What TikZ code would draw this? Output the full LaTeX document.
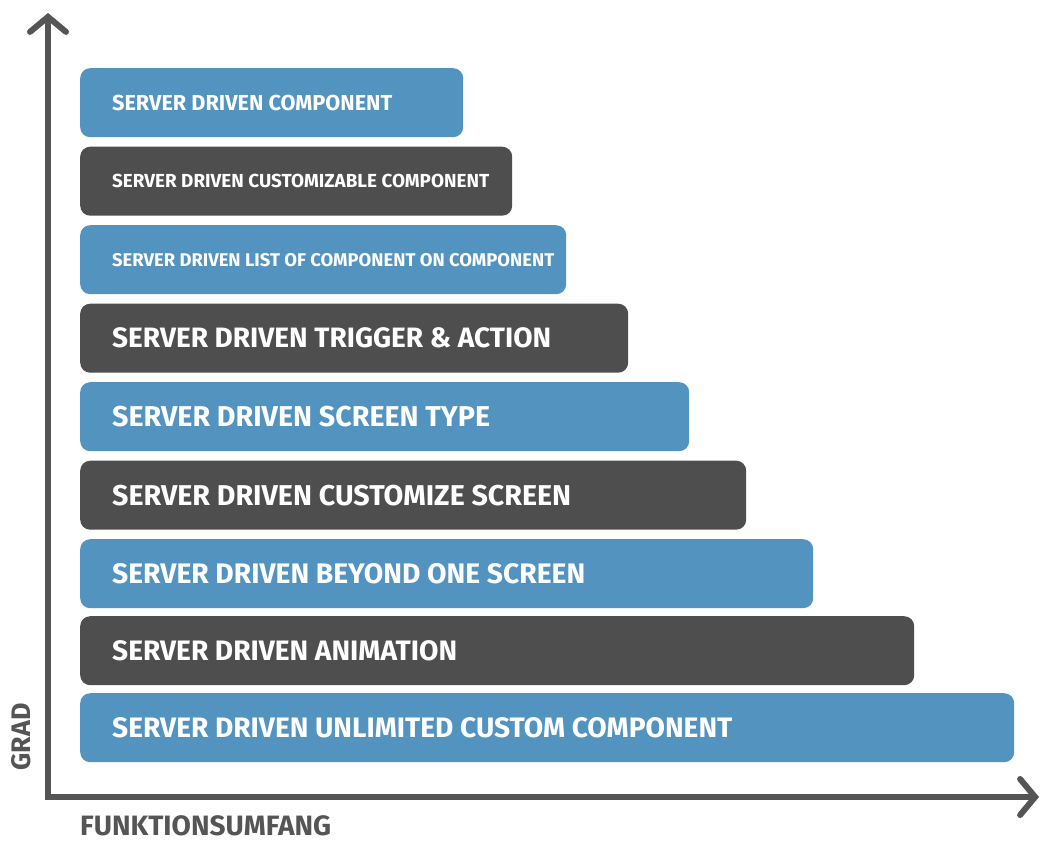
\documentclass[tikz,border=0pt]{standalone}
\usepackage{fontspec}
\usepackage{graphicx}
\setmainfont{Fira Sans}
\usetikzlibrary{arrows.meta}
\definecolor{barblue}{HTML}{5393C0}
\definecolor{bardark}{HTML}{4E4E4E}
\definecolor{axisgray}{HTML}{555555}
\newcommand{\fitw}[2]{\resizebox{#1pt}{!}{#2}}

\begin{document}
\begin{tikzpicture}[x=1pt,y=-1pt,
  bar/.style={rounded corners=10pt, minimum height=69pt, anchor=north west, inner sep=0pt},
  bluebar/.style={bar, fill=barblue},
  darkbar/.style={bar, fill=bardark},
  bartext/.style={anchor=west, inner sep=0pt, text=white, font=\bfseries, xshift=32pt},
  axislabel/.style={inner sep=0pt, text=axisgray, font=\bfseries},
  axis/.style={line width=6pt, draw=axisgray, line join=miter,
    {Straight Barb[length=15pt,width=36pt,line cap=round]}-{Straight Barb[length=15pt,width=36pt,line cap=round]}}]

\useasboundingbox (0,0) rectangle (1043,843);

% axes
\coordinate (o) at (48,797);
\coordinate (ytip) at (48,13);
\coordinate (xtip) at (1039,797);
\draw[axis] (ytip) -- (o) -- (xtip);

% bars, top to bottom
\node[bluebar, minimum width=383pt] (b1) at (80,68) {};
\node[darkbar, minimum width=432pt] (b2) at (80,146.5) {};
\node[bluebar, minimum width=486pt] (b3) at (80,225) {};
\node[darkbar, minimum width=548pt] (b4) at (80,303.5) {};
\node[bluebar, minimum width=609pt] (b5) at (80,382) {};
\node[darkbar, minimum width=666pt] (b6) at (80,460.5) {};
\node[bluebar, minimum width=733pt] (b7) at (80,539) {};
\node[darkbar, minimum width=834pt] (b8) at (80,616) {};
\node[bluebar, minimum width=934pt] (b9) at (80,693) {};

% bar captions
\node[bartext] (t1) at (b1.west) {\fitw{280}{SERVER DRIVEN COMPONENT}};
\node[bartext] (t2) at (b2.west) {\fitw{377}{SERVER DRIVEN CUSTOMIZABLE COMPONENT}};
\node[bartext] (t3) at (b3.west) {\fitw{442}{SERVER DRIVEN LIST OF COMPONENT ON COMPONENT}};
\node[bartext] (t4) at (b4.west) {\fitw{439}{SERVER DRIVEN TRIGGER \& ACTION}};
\node[bartext] (t5) at (b5.west) {\fitw{378}{SERVER DRIVEN SCREEN TYPE}};
\node[bartext] (t6) at (b6.west) {\fitw{459}{SERVER DRIVEN CUSTOMIZE SCREEN}};
\node[bartext] (t7) at (b7.west) {\fitw{473}{SERVER DRIVEN BEYOND ONE SCREEN}};
\node[bartext] (t8) at (b8.west) {\fitw{345}{SERVER DRIVEN ANIMATION}};
\node[bartext] (t9) at (b9.west) {\fitw{620}{SERVER DRIVEN UNLIMITED CUSTOM COMPONENT}};

% axis labels
\node[axislabel, rotate=90] (grad) at (21,737) {\fitw{67}{GRAD}};
\node[axislabel, anchor=west] (funk) at (80,826) {\fitw{251}{FUNKTIONSUMFANG}};
\end{tikzpicture}
\end{document}
